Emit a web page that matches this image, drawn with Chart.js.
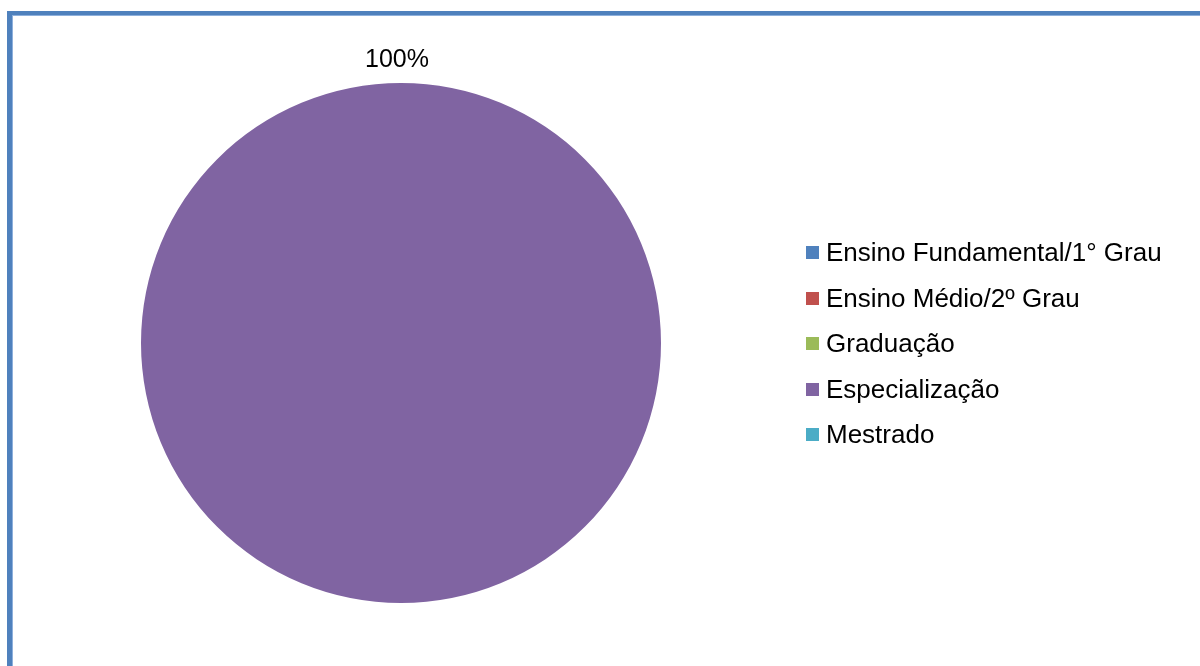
<!DOCTYPE html>
<html>
<head>
<meta charset="utf-8">
<script src="https://cdn.jsdelivr.net/npm/chart.js@4.4.1/dist/chart.umd.min.js"></script>
<style>
  html, body { margin: 0; padding: 0; background: #ffffff; }
  body { width: 1200px; height: 666px; position: relative; overflow: hidden; }
  #frame {
    position: absolute; left: 7px; top: 11px; width: 1300px; height: 800px;
    border-left: 5px solid #4f81bd; border-top: 4px solid #4f81bd;
    box-shadow: inset 1px 1px 0 #8eb0dc;
  }
  #wrap { position: absolute; left: 0; top: 0; width: 1200px; height: 666px; }
</style>
</head>
<body>
<div id="frame"></div>
<div id="wrap"><canvas id="chart" width="1200" height="666"></canvas></div>
<script>
// Escolaridade dos respondentes (percentual)
const categories = [
  'Ensino Fundamental/1° Grau',
  'Ensino Médio/2º Grau',
  'Graduação',
  'Especialização',
  'Mestrado'
];
const percentages = [0, 0, 0, 100, 0];
const sliceColors = ['#4f81bd', '#c0504d', '#9bbb59', '#8064a2', '#4bacc6'];

const FONT = '"Liberation Sans", Arial, sans-serif';

// Percentage labels just outside each non-empty slice
const sliceLabels = {
  id: 'sliceLabels',
  afterDatasetsDraw(chart) {
    const ctx = chart.ctx;
    const meta = chart.getDatasetMeta(0);
    const values = chart.data.datasets[0].data;
    const total = values.reduce((a, b) => a + b, 0);
    ctx.save();
    ctx.font = '25px ' + FONT;
    ctx.fillStyle = '#000000';
    ctx.textAlign = 'center';
    ctx.textBaseline = 'alphabetic';
    meta.data.forEach((arc, i) => {
      if (!values[i]) return;
      const p = arc.getProps(['x', 'y', 'startAngle', 'endAngle', 'outerRadius'], true);
      const span = p.endAngle - p.startAngle;
      const ang = span >= Math.PI * 2 - 1e-6 ? p.startAngle : p.startAngle + span / 2;
      const r = p.outerRadius + 16;
      const txt = Math.round(values[i] / total * 100) + '%';
      ctx.fillText(txt, p.x + Math.cos(ang) * r - 4, p.y + Math.sin(ang) * r);
    });
    ctx.restore();
  }
};

// Legend on the right: colored square followed by the category name
const sideLegend = {
  id: 'sideLegend',
  afterDraw(chart) {
    const ctx = chart.ctx;
    const labels = chart.data.labels;
    const colors = chart.data.datasets[0].backgroundColor;
    const x0 = 806, base0 = 261, step = 45.5, box = 13;
    ctx.save();
    ctx.font = '26px ' + FONT;
    ctx.textAlign = 'left';
    ctx.textBaseline = 'alphabetic';
    labels.forEach((lab, i) => {
      const base = base0 + i * step;
      ctx.fillStyle = colors[i];
      ctx.fillRect(x0, Math.round(base - 15), box, box);
      ctx.fillStyle = '#000000';
      ctx.fillText(lab, x0 + 20, base);
    });
    ctx.restore();
  }
};

new Chart(document.getElementById('chart'), {
  type: 'pie',
  data: {
    labels: categories,
    datasets: [{
      data: percentages,
      backgroundColor: sliceColors,
      borderWidth: 0
    }]
  },
  options: {
    responsive: false,
    animation: false,
    layout: { padding: { left: 141, top: 83, right: 539, bottom: 63 } },
    plugins: {
      legend: { display: false },
      tooltip: { enabled: false }
    }
  },
  plugins: [sliceLabels, sideLegend]
});
</script>
</body>
</html>
